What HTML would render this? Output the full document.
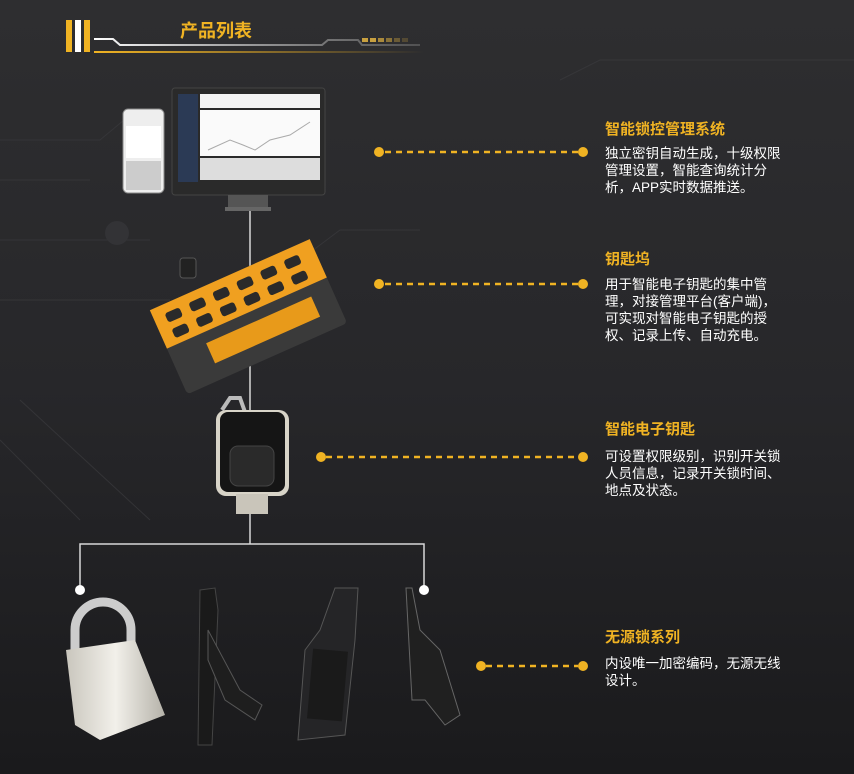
<!DOCTYPE html>
<html><head><meta charset="utf-8"><style>
body{margin:0;width:854px;height:774px;overflow:hidden;background:#1e1e20;font-family:"Liberation Sans","Noto Sans CJK SC",sans-serif}
svg{display:block}
.t{font-family:"Liberation Sans","Noto Sans CJK SC",sans-serif}
</style></head><body>
<svg width="854" height="774" viewBox="0 0 854 774">
<defs>
<linearGradient id="bg" x1="0" y1="0" x2="0" y2="1"><stop offset="0" stop-color="#2e2e30"/><stop offset="0.5" stop-color="#27272a"/><stop offset="1" stop-color="#1a1a1c"/></linearGradient>
<linearGradient id="gl" x1="0" x2="1"><stop offset="0" stop-color="#f0b323"/><stop offset="1" stop-color="#f0b323" stop-opacity="0"/></linearGradient>
<linearGradient id="wl" x1="0" x2="1"><stop offset="0" stop-color="#ffffff"/><stop offset="1" stop-color="#888" stop-opacity="0.4"/></linearGradient>
<linearGradient id="lock" x1="0" x2="1"><stop offset="0" stop-color="#c9c6bd"/><stop offset="0.5" stop-color="#f2f0ea"/><stop offset="1" stop-color="#b5b2a9"/></linearGradient>
</defs>
<rect width="854" height="774" fill="url(#bg)"/>
<g stroke="#3a3a3d" stroke-width="1" fill="none" opacity="0.7">
<path d="M0 140 H100 L130 115 H160"/><path d="M0 180 H90"/><path d="M0 240 H150"/><path d="M0 300 H170"/><path d="M0 440 L80 520"/><path d="M20 400 L150 520"/><path d="M300 260 L340 230 H420"/><path d="M560 80 L600 60 H854"/>
</g>
<circle cx="117" cy="233" r="12" fill="#333336"/>
<rect x="66" y="20" width="6" height="32" fill="#f0b323"/>
<rect x="75" y="20" width="6" height="32" fill="#ffffff"/>
<rect x="84" y="20" width="6" height="32" fill="#f0b323"/>
<path d="M94 39 H113 L120 45 H322 L328 40 H358 L362 45 H420" stroke="url(#wl)" stroke-width="2" fill="none"/>
<rect x="94" y="51" width="330" height="2" fill="url(#gl)"/>
<g fill="#c8a040"><rect x="362" y="38" width="6" height="4"/><rect x="370" y="38" width="6" height="4"/><rect x="378" y="38" width="6" height="4" opacity=".8"/><rect x="386" y="38" width="6" height="4" opacity=".6"/><rect x="394" y="38" width="6" height="4" opacity=".4"/><rect x="402" y="38" width="6" height="4" opacity=".25"/></g>
<text x="180" y="37" class="t" font-size="18" font-weight="bold" fill="#f0b323">产品列表</text>

<rect x="172" y="88" width="153" height="107" rx="3" fill="#2a2a2a" stroke="#444"/>
<rect x="178" y="94" width="20" height="88" fill="#2b3a55"/>
<rect x="200" y="94" width="120" height="14" fill="#f4f4f4"/>
<rect x="200" y="110" width="120" height="46" fill="#fafafa"/>
<polyline points="208,150 230,140 243,145 255,150 270,140 290,135 310,122" stroke="#aaa" fill="none"/>
<rect x="200" y="158" width="120" height="22" fill="#ddd"/>
<rect x="228" y="195" width="40" height="12" fill="#555"/>
<rect x="225" y="207" width="46" height="4" fill="#666"/>
<rect x="123" y="109" width="41" height="84" rx="5" fill="#eee" stroke="#888"/>
<rect x="126" y="126" width="35" height="32" fill="#fff"/><rect x="126" y="161" width="35" height="29" fill="#ccc"/>

<line x1="250" y1="211" x2="250" y2="544" stroke="#d8d8d8" stroke-width="1.5"/>

<g transform="rotate(-24 245 315)">
<rect x="160" y="272" width="175" height="92" rx="4" fill="#3a3a3a"/>
<rect x="160" y="272" width="175" height="42" fill="#f0a020"/>
<g fill="#2a2a2a"><rect x="172" y="281" width="16" height="10" rx="3"/><rect x="198" y="281" width="16" height="10" rx="3"/><rect x="224" y="281" width="16" height="10" rx="3"/><rect x="250" y="281" width="16" height="10" rx="3"/><rect x="276" y="281" width="16" height="10" rx="3"/><rect x="302" y="281" width="16" height="10" rx="3"/>
<rect x="172" y="298" width="16" height="10" rx="3"/><rect x="198" y="298" width="16" height="10" rx="3"/><rect x="224" y="298" width="16" height="10" rx="3"/><rect x="250" y="298" width="16" height="10" rx="3"/><rect x="276" y="298" width="16" height="10" rx="3"/><rect x="302" y="298" width="16" height="10" rx="3"/></g>
<rect x="198" y="325" width="115" height="22" fill="#e89a1a"/>
</g>
<rect x="180" y="258" width="16" height="20" rx="3" fill="#222" stroke="#555"/>

<path d="M222 410 L230 398 H240 L245 412" stroke="#bbb" stroke-width="4" fill="none"/>
<rect x="216" y="410" width="73" height="86" rx="10" fill="#d8d4c8"/>
<rect x="220" y="412" width="65" height="80" rx="8" fill="#151515"/>
<rect x="230" y="446" width="44" height="40" rx="8" fill="#2a2a2a" stroke="#444"/>
<rect x="236" y="494" width="32" height="20" fill="#c9c5ba"/>

<path d="M80 590 V544 H424 V590" stroke="#d8d8d8" stroke-width="1.5" fill="none"/>
<circle cx="80" cy="590" r="5" fill="#fff"/><circle cx="424" cy="590" r="5" fill="#fff"/>

<path d="M75 660 V630 A28 28 0 0 1 131 630 V660" stroke="#ccc" stroke-width="9" fill="none"/>
<path d="M66 650 L135 640 L165 715 L100 740 L75 725 Z" fill="url(#lock)"/>
<path d="M200 590 L215 588 L218 610 L212 745 L198 745 Z" fill="#1a1a1a" stroke="#444"/>
<path d="M208 630 L240 690 L262 705 L255 720 L225 700 L208 660 Z" fill="#1e1e1e" stroke="#555"/>
<path d="M335 588 L358 588 L355 640 L345 735 L298 740 L305 650 L320 630 Z" fill="#252527" stroke="#555"/>
<rect x="310" y="650" width="35" height="70" fill="#1a1a1a" transform="rotate(5 327 685)"/>
<path d="M406 588 L412 588 L420 630 L440 650 L460 715 L445 725 L425 700 L412 700 Z" fill="#202020" stroke="#666"/>

<g stroke="#f0b323" stroke-width="2.5" stroke-dasharray="6 5">
<line x1="385" y1="152" x2="578" y2="152"/>
<line x1="385" y1="284" x2="578" y2="284"/>
<line x1="326" y1="457" x2="578" y2="457"/>
<line x1="486" y1="666" x2="578" y2="666"/>
</g>
<g fill="#f0b323">
<circle cx="379" cy="152" r="5"/><circle cx="583" cy="152" r="5"/>
<circle cx="379" cy="284" r="5"/><circle cx="583" cy="284" r="5"/>
<circle cx="321" cy="457" r="5"/><circle cx="583" cy="457" r="5"/>
<circle cx="481" cy="666" r="5"/><circle cx="583" cy="666" r="5"/>
</g>

<g class="t" font-size="15" font-weight="bold" fill="#f0b323">
<text x="605" y="134">智能锁控管理系统</text>
<text x="605" y="264">钥匙坞</text>
<text x="605" y="434">智能电子钥匙</text>
<text x="605" y="642">无源锁系列</text>
</g>
<g class="t" font-size="13.5" fill="#ffffff">
<text x="605" y="158">独立密钥自动生成，十级权限</text>
<text x="605" y="175">管理设置，智能查询统计分</text>
<text x="605" y="192">析，APP实时数据推送。</text>
<text x="605" y="289">用于智能电子钥匙的集中管</text>
<text x="605" y="306">理，对接管理平台(客户端)，</text>
<text x="605" y="323">可实现对智能电子钥匙的授</text>
<text x="605" y="340">权、记录上传、自动充电。</text>
<text x="605" y="461">可设置权限级别，识别开关锁</text>
<text x="605" y="478">人员信息，记录开关锁时间、</text>
<text x="605" y="495">地点及状态。</text>
<text x="605" y="668">内设唯一加密编码，无源无线</text>
<text x="605" y="685">设计。</text>
</g>
</svg>
</body></html>
